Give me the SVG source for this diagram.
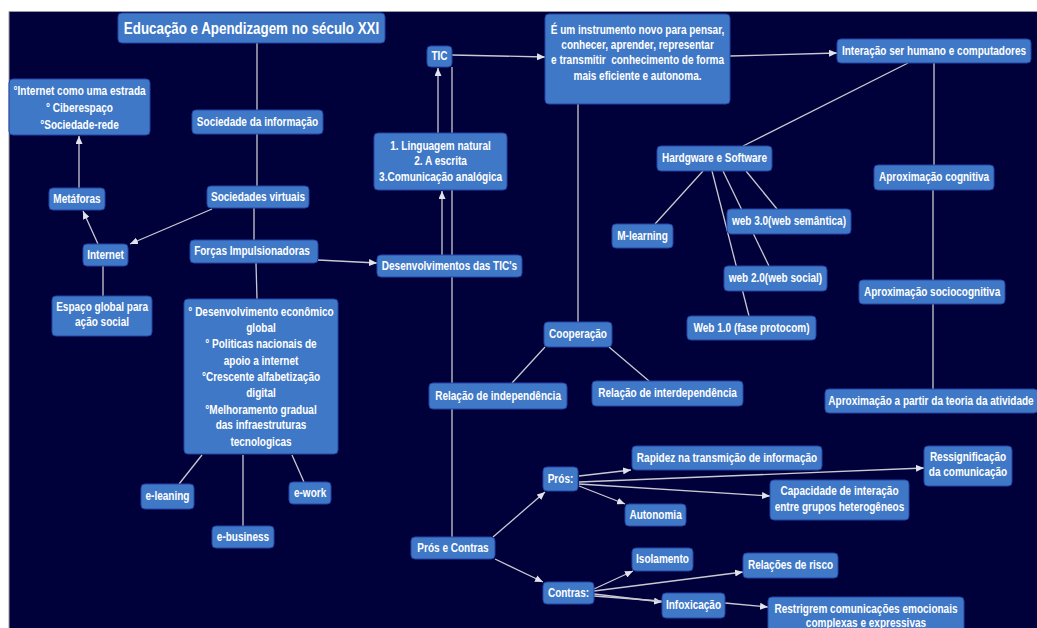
<svg xmlns="http://www.w3.org/2000/svg" width="1037" height="628" viewBox="0 0 1037 628">
<style>
.bg{fill:#00003a}
.n rect{fill:#3f78c6;stroke:#2445a6;stroke-width:1;rx:4px;ry:4px}
.n text{font-family:"Liberation Sans",Arial,sans-serif;font-weight:bold;font-size:12px;fill:#ffffff;text-anchor:middle;transform:scaleX(0.835);transform-box:fill-box;transform-origin:center}
.c line{stroke:#c9c9d2;stroke-width:1.3;fill:none}
.c line.a{marker-end:url(#arr)}
</style>
<defs>
<marker id="arr" markerUnits="userSpaceOnUse" markerWidth="8" markerHeight="7" refX="8" refY="3.5" orient="auto">
<path d="M0,0 L8,3.5 L0,7 z" fill="#e2e2ea"/>
</marker>
</defs>
<rect x="0" y="0" width="1037" height="628" fill="#ffffff"/>
<rect class="bg" x="9" y="12" width="1028" height="616"/>
<path d="M9,628 V11.5 H1037" fill="none" stroke="#9a9aa6" stroke-width="1"/>
<g id="connectors" class="c">
<line x1="257" y1="43" x2="257" y2="110"/>
<line x1="257" y1="134" x2="257" y2="186"/>
<line x1="254" y1="208" x2="254" y2="240"/>
<line class="a" x1="212" y1="209" x2="130" y2="244"/>
<line class="a" x1="98" y1="244" x2="83" y2="211"/>
<line class="a" x1="79" y1="188" x2="79" y2="136"/>
<line x1="103" y1="266" x2="103" y2="296"/>
<line x1="256" y1="263" x2="257" y2="299"/>
<line class="a" x1="318" y1="260" x2="377" y2="263"/>
<line x1="202" y1="455" x2="179" y2="484"/>
<line x1="243" y1="455" x2="243" y2="526"/>
<line x1="292" y1="455" x2="304" y2="482"/>
<line class="a" x1="442" y1="255" x2="442" y2="191"/>
<line class="a" x1="438" y1="133" x2="438" y2="68"/>
<line x1="452" y1="67" x2="452" y2="383"/>
<line x1="452" y1="409" x2="452" y2="537"/>
<line class="a" x1="452" y1="55" x2="545" y2="57"/>
<line class="a" x1="730" y1="56" x2="837" y2="53"/>
<line x1="578" y1="104" x2="578" y2="322"/>
<line x1="908" y1="63" x2="743" y2="146"/>
<line x1="934" y1="63" x2="934" y2="165"/>
<line x1="933" y1="190" x2="933" y2="280"/>
<line x1="933" y1="304" x2="933" y2="389"/>
<line x1="703" y1="171" x2="655" y2="224"/>
<line x1="712" y1="171" x2="749" y2="316"/>
<line x1="723" y1="171" x2="769" y2="266"/>
<line x1="746" y1="171" x2="777" y2="209"/>
<line x1="545" y1="347" x2="512" y2="383"/>
<line x1="609" y1="347" x2="649" y2="381"/>
<line class="a" x1="493" y1="537" x2="545" y2="492"/>
<line class="a" x1="495" y1="559" x2="543" y2="582"/>
<line class="a" x1="579" y1="476" x2="631" y2="470"/>
<line class="a" x1="579" y1="482" x2="924" y2="468"/>
<line class="a" x1="579" y1="484" x2="770" y2="496"/>
<line class="a" x1="579" y1="486" x2="625" y2="504"/>
<line class="a" x1="594" y1="589" x2="633" y2="571"/>
<line class="a" x1="594" y1="591" x2="743" y2="572"/>
<line class="a" x1="594" y1="594" x2="662" y2="602"/>
<line x1="594" y1="596" x2="700" y2="604"/>
<line class="a" x1="725" y1="603" x2="768" y2="607"/>
</g>
<g id="n_title" class="n"><rect x="118" y="13" width="267" height="30"/><text x="251.5" y="34" style="font-size:16px">Educação e Apendizagem no século XXI</text></g>
<g id="n_metaf_list" class="n"><rect x="9" y="79" width="141" height="56"/><text x="79.5" y="95">°Internet como uma estrada</text><text x="79.5" y="112">° Ciberespaço</text><text x="79.5" y="129">°Sociedade-rede</text></g>
<g id="n_socinfo" class="n"><rect x="192" y="110" width="131" height="24"/><text x="257.5" y="126">Sociedade da informação</text></g>
<g id="n_metaforas" class="n"><rect x="49" y="188" width="56" height="22"/><text x="77" y="203">Metáforas</text></g>
<g id="n_socvirt" class="n"><rect x="207" y="186" width="102" height="22"/><text x="258" y="201">Sociedades virtuais</text></g>
<g id="n_internet" class="n"><rect x="83" y="244" width="45" height="22"/><text x="105.5" y="259">Internet</text></g>
<g id="n_forcas" class="n"><rect x="190" y="240" width="128" height="23"/><text x="252" y="255.5">Forças Impulsionadoras</text></g>
<g id="n_espaco" class="n"><rect x="52" y="296" width="100" height="40"/><text x="102" y="311">Espaço global para</text><text x="102" y="326">ação social</text></g>
<g id="n_fatores" class="n"><rect x="184" y="299" width="154" height="155"/>
<text x="261" y="316">° Desenvolvimento econômico</text>
<text x="261" y="332">global</text>
<text x="261" y="348">° Politicas nacionais de</text>
<text x="261" y="365">apoio a internet</text>
<text x="261" y="381">°Crescente alfabetização</text>
<text x="261" y="397">digital</text>
<text x="261" y="414">°Melhoramento gradual</text>
<text x="261" y="429">das infraestruturas</text>
<text x="261" y="446">tecnologicas</text></g>
<g id="n_eleaning" class="n"><rect x="141" y="484" width="53" height="25"/><text x="167.5" y="500.5">e-leaning</text></g>
<g id="n_ework" class="n"><rect x="289" y="482" width="42" height="22"/><text x="310" y="497">e-work</text></g>
<g id="n_ebusiness" class="n"><rect x="212" y="526" width="62" height="22"/><text x="243" y="541">e-business</text></g>
<g id="n_tic" class="n"><rect x="427" y="46" width="25" height="21"/><text x="439.5" y="60.5">TIC</text></g>
<g id="n_linguagem" class="n"><rect x="374" y="133" width="133" height="57"/><text x="440.5" y="150">1. Linguagem natural</text><text x="440.5" y="165">2. A escrita</text><text x="440.5" y="181">3.Comunicação analógica</text></g>
<g id="n_instrumento" class="n"><rect x="545" y="14" width="185" height="90"/><text x="637.5" y="34">É um instrumento novo para pensar,</text><text x="637.5" y="49">conhecer, aprender, representar </text><text x="637.5" y="64" xml:space="preserve">e transmitir  conhecimento de forma</text><text x="637.5" y="80">mais eficiente e autonoma.</text></g>
<g id="n_interacao" class="n"><rect x="837" y="39" width="194" height="24"/><text x="934" y="55">Interação ser humano e computadores</text></g>
<g id="n_hardware" class="n"><rect x="657" y="146" width="115" height="25"/><text x="714.5" y="162.5">Hardgware e Software</text></g>
<g id="n_apcog" class="n"><rect x="874" y="165" width="120" height="25"/><text x="934" y="181.5">Aproximação cognitiva</text></g>
<g id="n_mlearning" class="n"><rect x="612" y="224" width="61" height="24"/><text x="642.5" y="240">M-learning</text></g>
<g id="n_web3" class="n"><rect x="727" y="209" width="124" height="25"/><text x="789" y="225.5">web 3.0(web semântica)</text></g>
<g id="n_web2" class="n"><rect x="724" y="266" width="103" height="25"/><text x="775.5" y="282.5">web 2.0(web social)</text></g>
<g id="n_web1" class="n"><rect x="687" y="316" width="129" height="24"/><text x="751.5" y="332">Web 1.0 (fase protocom)</text></g>
<g id="n_apsoc" class="n"><rect x="859" y="280" width="146" height="24"/><text x="932" y="296">Aproximação sociocognitiva</text></g>
<g id="n_apteo" class="n"><rect x="825" y="389" width="213" height="24"/><text x="931" y="405">Aproximação a partir da teoria da atividade</text></g>
<g id="n_desenv" class="n"><rect x="377" y="255" width="145" height="22"/><text x="449.5" y="270">Desenvolvimentos das TIC's</text></g>
<g id="n_coop" class="n"><rect x="544" y="322" width="68" height="25"/><text x="578" y="338.5">Cooperação</text></g>
<g id="n_relind" class="n"><rect x="429" y="383" width="138" height="26"/><text x="498" y="400">Relação de independência</text></g>
<g id="n_relinter" class="n"><rect x="592" y="381" width="151" height="25"/><text x="667.5" y="397.5">Relação de interdependência</text></g>
<g id="n_proscontras" class="n"><rect x="411" y="537" width="84" height="22"/><text x="453" y="552">Prós e Contras</text></g>
<g id="n_pros" class="n"><rect x="543" y="467" width="35" height="24"/><text x="560.5" y="483">Prós:</text></g>
<g id="n_autonomia" class="n"><rect x="625" y="504" width="61" height="22"/><text x="655.5" y="519">Autonomia</text></g>
<g id="n_rapidez" class="n"><rect x="632" y="446" width="190" height="24"/><text x="727" y="462">Rapidez na transmição de informação</text></g>
<g id="n_ressig" class="n"><rect x="924" y="446" width="88" height="40"/><text x="968" y="461">Ressignificação</text><text x="968" y="476">da comunicação</text></g>
<g id="n_capac" class="n"><rect x="770" y="480" width="139" height="40"/><text x="839.5" y="495">Capacidade de interação</text><text x="839.5" y="511">entre grupos heterogêneos</text></g>
<g id="n_contras" class="n"><rect x="543" y="582" width="51" height="22"/><text x="568.5" y="597">Contras:</text></g>
<g id="n_isolamento" class="n"><rect x="632" y="548" width="61" height="23"/><text x="662.5" y="563.5">Isolamento</text></g>
<g id="n_infox" class="n"><rect x="662" y="593" width="63" height="25"/><text x="693.5" y="609.5">Infoxicação</text></g>
<g id="n_risco" class="n"><rect x="743" y="553" width="95" height="25"/><text x="790.5" y="569.5">Relações de risco</text></g>
<g id="n_restr" class="n"><rect x="768" y="597" width="196" height="40"/><text x="866" y="613">Restrigrem comunicações emocionais</text><text x="866" y="627">complexas e expressivas</text></g>
</svg>
